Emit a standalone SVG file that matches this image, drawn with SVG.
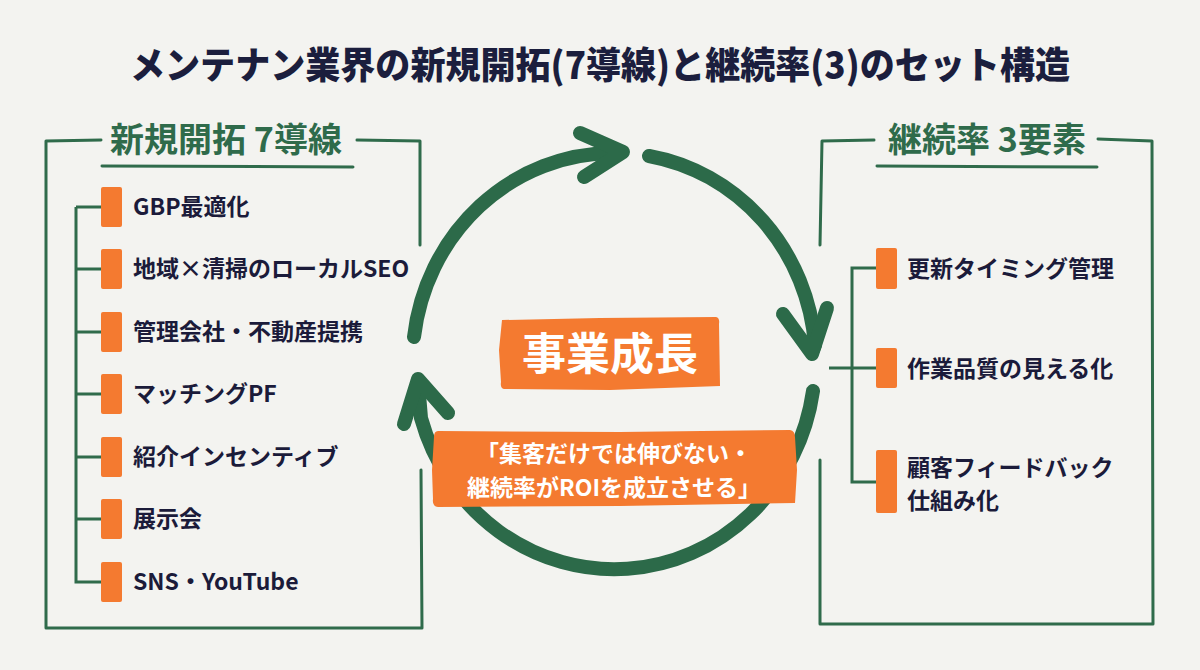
<svg xmlns="http://www.w3.org/2000/svg" width="1200" height="670" viewBox="0 0 1200 670">
<style>
.bg{fill:#f3f3f0}
.frame{fill:none;stroke:#2f6b4b;stroke-width:3;stroke-linecap:round;stroke-linejoin:round}
.tree{fill:none;stroke:#2f6b4b;stroke-width:3;stroke-linecap:butt;stroke-linejoin:miter}
.cyc{fill:none;stroke:#2c6a49;stroke-width:14;stroke-linecap:round;stroke-linejoin:round}
.mark{fill:#f47a30}
.title{font-family:"Noto Sans CJK JP","Noto Sans",sans-serif;font-weight:900;font-size:37px;fill:#1b1e3d}
.sec{font-family:"Noto Sans CJK JP","Noto Sans",sans-serif;font-weight:700;font-size:34px;fill:#2f6b4b}
.item{font-family:"Noto Sans CJK JP","Noto Sans",sans-serif;font-weight:700;font-size:23px;fill:#1b1b3a}
.big{font-family:"Noto Sans CJK JP","Noto Sans",sans-serif;font-weight:700;font-size:44px;fill:#ffffff}
.quote{font-family:"Noto Sans CJK JP","Noto Sans",sans-serif;font-weight:700;font-size:23px;fill:#ffffff}
</style>
<rect class="bg" x="0" y="0" width="1200" height="670"/>

<text class="title" x="600" y="79" text-anchor="middle" textLength="940" lengthAdjust="spacingAndGlyphs">メンテナン業界の新規開拓(7導線)と継続率(3)のセット構造</text>

<g id="connectors">
  <!-- cycle arrows -->
  <path class="cyc" d="M 414 337 A 201 209 0 0 1 612 153 L 620 152"/>
  <polyline class="cyc" points="580,133 623,152 584,177"/>
  <path class="cyc" d="M 649 156 A 201 209 0 0 1 815 345 L 812 352"/>
  <polyline class="cyc" points="783,314 812,354 827,308"/>
  <path class="cyc" d="M 813 391 A 201 209 0 0 1 421 418 L 418 382"/>
  <polyline class="cyc" points="404,424 418,379 448,413"/>
  <!-- left tree -->
  <path class="tree" d="M 76 207 L 76 582 L 102 582"/>
  <path class="tree" d="M 76 207 H 102 M 76 269 H 102 M 76 332 H 102 M 76 394 H 102 M 76 457 H 102 M 76 519 H 102"/>
  <!-- right tree -->
  <path class="tree" d="M 877 268 L 852 268 L 852 482 L 877 482"/>
  <path class="tree" d="M 829 368 H 877"/>
</g>

<g id="left-frame">
  <path class="frame" d="M 101 140 L 46 141 L 46 628 L 422 628 L 421 470"/>
  <path class="frame" d="M 357 140 L 420 141 L 420 245"/>
  <path class="frame" d="M 102 166 L 353 167"/>
  <text class="sec" x="226" y="152" text-anchor="middle">新規開拓 7導線</text>
</g>

<g id="right-frame">
  <path class="frame" d="M 874 140 L 822 141 L 820 245"/>
  <path class="frame" d="M 820 460 L 820 624 L 1153 624 L 1152 141 L 1098 139"/>
  <path class="frame" d="M 877 166 L 1097 167"/>
  <text class="sec" x="987" y="152" text-anchor="middle">継続率 3要素</text>
</g>

<g id="item-gbp"><rect class="mark" x="101" y="187" width="21" height="40" rx="2"/><text class="item" x="133" y="215">GBP最適化</text></g>
<g id="item-seo"><rect class="mark" x="101" y="249" width="21" height="40" rx="2"/><text class="item" x="133" y="277">地域×清掃のローカルSEO</text></g>
<g id="item-partner"><rect class="mark" x="101" y="312" width="21" height="40" rx="2"/><text class="item" x="133" y="340">管理会社・不動産提携</text></g>
<g id="item-matching"><rect class="mark" x="101" y="374" width="21" height="40" rx="2"/><text class="item" x="133" y="402">マッチングPF</text></g>
<g id="item-referral"><rect class="mark" x="101" y="437" width="21" height="40" rx="2"/><text class="item" x="133" y="465">紹介インセンティブ</text></g>
<g id="item-expo"><rect class="mark" x="101" y="499" width="21" height="40" rx="2"/><text class="item" x="133" y="527">展示会</text></g>
<g id="item-sns"><rect class="mark" x="101" y="562" width="21" height="40" rx="2"/><text class="item" x="133" y="590">SNS・YouTube</text></g>

<g id="item-renewal"><rect class="mark" x="876" y="248" width="21" height="41" rx="2"/><text class="item" x="907" y="277">更新タイミング管理</text></g>
<g id="item-quality"><rect class="mark" x="876" y="348" width="21" height="40" rx="2"/><text class="item" x="907" y="377">作業品質の見える化</text></g>
<g id="item-feedback"><rect class="mark" x="876" y="450" width="21" height="63" rx="2"/><text class="item" x="907" y="476">顧客フィードバック</text><text class="item" x="907" y="509">仕組み化</text></g>

<g id="center">
  <path class="mark" d="M 502 320 L 600 318 L 716 317 Q 720 318 719 324 L 720 386 L 610 390 L 504 389 Q 500 388 501 382 L 499 350 Z"/>
  <text class="big" x="610" y="370" text-anchor="middle">事業成長</text>
</g>

<g id="quote">
  <path class="mark" d="M 438 431 L 620 432 L 790 430 Q 795 431 795 437 L 797 470 L 795 503 L 620 506 L 438 507 Q 432 506 433 499 L 432 470 L 434 437 Q 434 431 438 431 Z"/>
  <text class="quote" x="614" y="462" text-anchor="middle">「集客だけでは伸びない・</text>
  <text class="quote" x="614" y="496" text-anchor="middle">継続率がROIを成立させる」</text>
</g>
</svg>
